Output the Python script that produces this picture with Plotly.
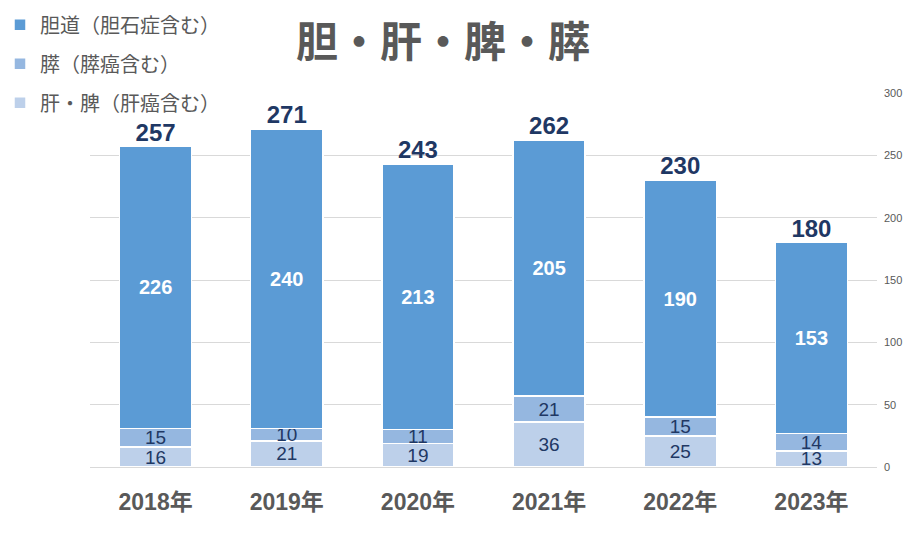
import plotly.graph_objects as go

years = ["2018年", "2019年", "2020年", "2021年", "2022年", "2023年"]
biliary = [226, 240, 213, 205, 190, 153]
pancreas = [15, 10, 11, 21, 15, 14]
liver_spleen = [16, 21, 19, 36, 25, 13]
totals = [a + b + c for a, b, c in zip(biliary, pancreas, liver_spleen)]

FONT = "Liberation Sans, Noto Sans CJK JP, sans-serif"
JP = "Noto Sans CJK JP, sans-serif"
NAVY = "#1F3864"
GRAY = "#595959"

common = dict(textposition="inside", insidetextanchor="middle", textangle=0,
              constraintext="none", cliponaxis=False)

fig = go.Figure()
fig.add_trace(go.Bar(
    x=years, y=liver_spleen, name="肝・脾（肝癌含む）",
    marker=dict(color="#BDD0EA", line=dict(color="white", width=1.5)),
    text=liver_spleen, textfont=dict(color=NAVY, size=19, family=FONT),
    legendgroup="c", legendrank=3, **common,
))
fig.add_trace(go.Bar(
    x=years, y=pancreas, name="膵（膵癌含む）",
    marker=dict(color="#95B7E0", line=dict(color="white", width=1.5)),
    text=pancreas, textfont=dict(color=NAVY, size=19, family=FONT),
    legendgroup="b", legendrank=2, **common,
))
fig.add_trace(go.Bar(
    x=years, y=biliary, name="胆道（胆石症含む）",
    marker=dict(color="#5B9BD5", line=dict(color="white", width=1.5)),
    text=biliary, textfont=dict(color="white", size=20, family=FONT),
    texttemplate="<b>%{text}</b>",
    legendgroup="a", legendrank=1, **common,
))
fig.add_trace(go.Scatter(
    x=years, y=totals, mode="text", text=[f"<b>{t}</b>" for t in totals],
    textposition="top center", textfont=dict(color=NAVY, size=24, family=FONT),
    showlegend=False, hoverinfo="skip", cliponaxis=False,
))

fig.update_layout(
    barmode="stack",
    bargap=0.45,
    width=917, height=536,
    margin=dict(l=90, r=40, t=93, b=69, autoexpand=False),
    plot_bgcolor="white", paper_bgcolor="white",
    title=dict(text="<b>胆・肝・脾・膵</b>", x=0.483, xanchor="center", y=0.922, yanchor="middle",
               font=dict(size=42, color=GRAY, family=JP)),
    legend=dict(
        x=0, y=0.99, xref="container", yref="container", xanchor="left", yanchor="top",
        font=dict(size=20, color=GRAY, family=JP),
        traceorder="grouped", tracegroupgap=10, itemwidth=30,
        bgcolor="rgba(0,0,0,0)",
    ),
    xaxis=dict(
        tickfont=dict(size=23, color=GRAY, family=FONT),
        tickvals=years, ticktext=[f"<b>{y}</b>" for y in years],
        showline=True, linecolor="#D9D9D9", linewidth=1,
        ticks="", ticklabelstandoff=14,
    ),
    yaxis=dict(
        side="right", range=[0, 300], dtick=50,
        showgrid=True, gridcolor="#D9D9D9", gridwidth=1,
        tickfont=dict(size=11, color=GRAY, family=FONT),
        zeroline=False, ticklabelstandoff=6,
    ),
)

fig.write_html("out.html")
